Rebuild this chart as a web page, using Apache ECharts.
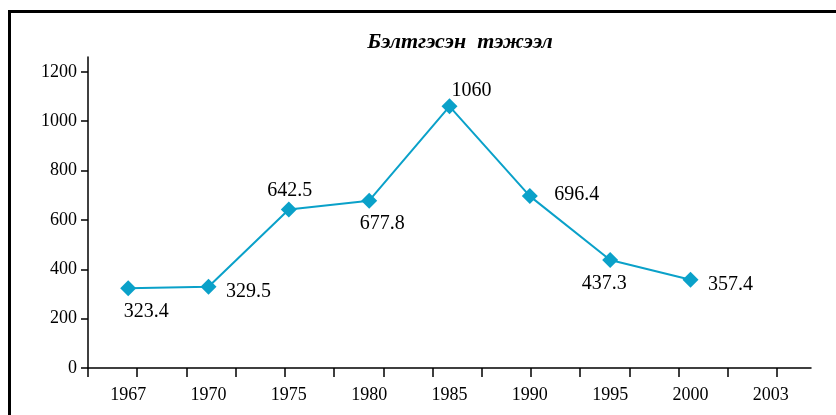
<!DOCTYPE html>
<html>
<head>
<meta charset="utf-8">
<script src="https://cdn.jsdelivr.net/npm/echarts@6/dist/echarts.min.js"></script>
<style>
  html, body { margin: 0; padding: 0; background: #fff; }
  #chart { width: 836px; height: 415px; }
</style>
</head>
<body>
<div id="chart"></div>
<script>
// data
var years = ['1967', '1970', '1975', '1980', '1985', '1990', '1995', '2000', '2003'];
var values = [323.4, 329.5, 642.5, 677.8, 1060, 696.4, 437.3, 357.4, null];
var yTicks = [0, 200, 400, 600, 800, 1000, 1200];
// label offsets from the marker (px)
var labelOffsets = [[18, 24], [40, 5], [1, -19], [13, 23], [22, -16], [47, -1], [-6, 24], [40, 5], [0, 0]];

var serif = 'Liberation Serif';
var lineColor = '#0aa1c9';

var dom = document.getElementById('chart');
var myChart = echarts.init(dom);

var seriesData = values.map(function (v, i) {
    return {
        value: v,
        label: { offset: labelOffsets[i] }
    };
});

// minor ticks under the category axis, spaced independently of the labels
var minorTickCount = 15;
var minorTicks = [];
for (var i = 0; i < minorTickCount; i++) minorTicks.push(i);

option = {
    animation: false,
    backgroundColor: '#fff',
    title: {
        text: 'Бэлтгэсэн  тэжээл',
        left: 455,
        textAlign: 'center',
        top: 26,
        textStyle: {
            fontFamily: serif,
            fontStyle: 'italic',
            fontWeight: 'bold',
            fontSize: 22,
            color: '#000'
        }
    },
    graphic: [{
        type: 'polyline',
        shape: { points: [[9.5, 415], [9.5, 11.5], [836, 11.5]] },
        style: { stroke: '#000', lineWidth: 3, fill: null }
    }],
    grid: { left: 88, right: 25, top: 57, bottom: 47 },
    xAxis: [{
        type: 'category',
        data: years,
        boundaryGap: true,
        axisLine: { lineStyle: { color: '#000', width: 1.5 } },
        axisTick: { show: false },
        axisLabel: {
            color: '#000',
            fontFamily: serif,
            fontSize: 18,
            margin: 18
        },
        splitLine: { show: false }
    }, {
        type: 'value',
        position: 'bottom',
        min: 0,
        max: 14.69,
        axisLine: { show: false },
        axisTick: {
            show: true,
            length: 9,
            customValues: minorTicks,
            lineStyle: { color: '#000', width: 1.5 }
        },
        axisLabel: { show: false },
        splitLine: { show: false }
    }],
    yAxis: {
        type: 'value',
        min: 0,
        max: 1260,
        interval: 200,
        axisLine: { show: true, lineStyle: { color: '#000', width: 1.5 } },
        axisTick: {
            show: true,
            length: 7,
            customValues: yTicks,
            lineStyle: { color: '#000', width: 1.5 }
        },
        axisLabel: {
            color: '#000',
            fontFamily: serif,
            fontSize: 18,
            margin: 11,
            customValues: yTicks,
            formatter: function (v) { return String(v); }
        },
        splitLine: { show: false }
    },
    series: [{
        type: 'line',
        xAxisIndex: 0,
        data: seriesData,
        symbol: 'diamond',
        symbolSize: 16,
        itemStyle: { color: lineColor },
        lineStyle: { color: lineColor, width: 2 },
        label: {
            show: true,
            position: 'inside',
            align: 'center',
            verticalAlign: 'middle',
            color: '#000',
            fontFamily: serif,
            fontSize: 20
        }
    }]
};

myChart.setOption(option, true);
</script>
</body>
</html>
